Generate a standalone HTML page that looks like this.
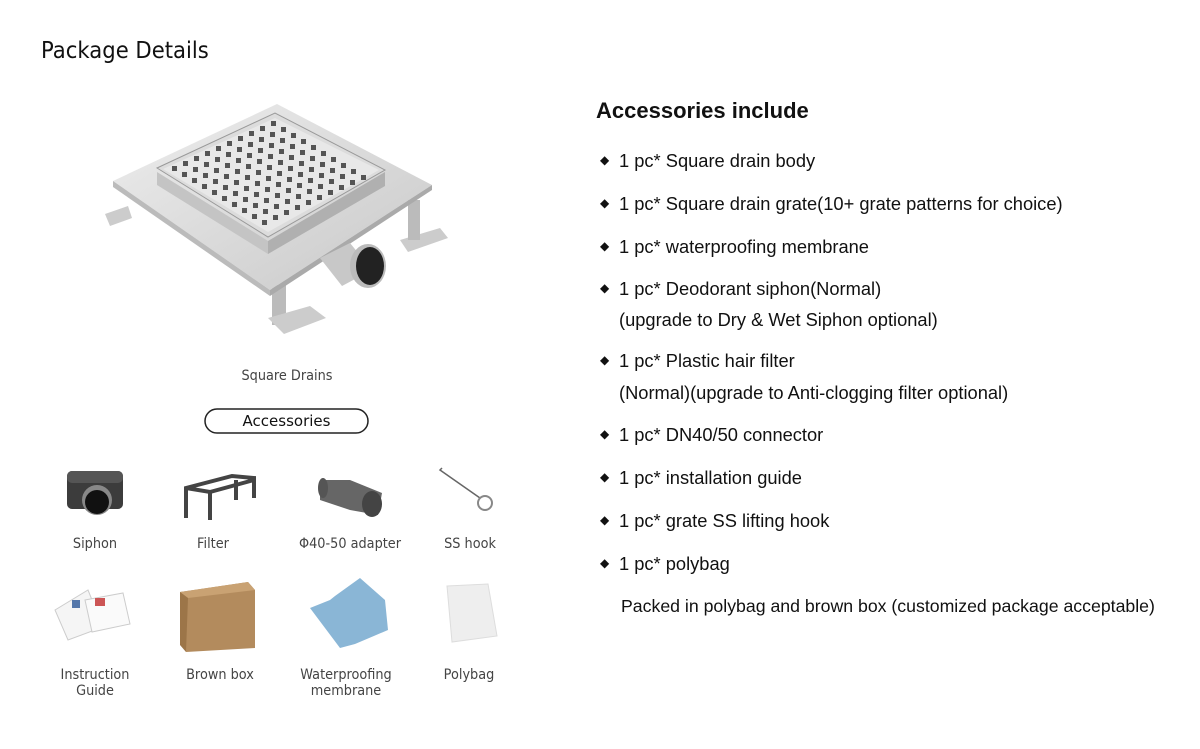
<!DOCTYPE html>
<html><head><meta charset="utf-8"><style>
body{margin:0;background:#fff;}
#c{position:relative;width:1200px;height:749px;overflow:hidden;font-family:"Liberation Sans",sans-serif;}
.a{position:absolute;white-space:nowrap;}
.lbl{position:absolute;font-size:14px;color:#444;text-align:center;width:130px;line-height:16px;font-family:"DejaVu Sans","Liberation Sans",sans-serif;transform:scaleX(0.92);}
.it{position:absolute;left:600px;font-size:18.3px;color:#111;}
.it b{position:absolute;left:0;font-size:12px;top:3px;font-weight:normal;}
.it span{position:absolute;left:19px;white-space:nowrap;}
</style></head><body><div id="c">
<div class="a" style="left:41px;top:38px;font-size:23px;color:#111;font-family:'DejaVu Sans','Liberation Sans',sans-serif;transform:scaleX(0.92);transform-origin:left">Package Details</div>

<svg class="a" style="left:0;top:0" width="560" height="749">
<defs><linearGradient id="g1" x1="0" y1="0" x2="1" y2="1"><stop offset="0" stop-color="#eee"/><stop offset="1" stop-color="#c8c8c8"/></linearGradient></defs>
<polygon points="105,214 128,206 132,218 110,226" fill="#ccc"/>
<polygon points="400,240 440,228 448,238 408,252" fill="#ccc"/>
<rect x="408" y="200" width="12" height="40" fill="#bbb"/>
<rect x="272" y="285" width="14" height="40" fill="#bbb"/>
<polygon points="268,318 310,306 326,318 284,334" fill="#ccc"/>
<polygon points="113,181 277,104 432,185 270,290" fill="url(#g1)"/>
<polygon points="113,181 270,290 270,296 113,187" fill="#bbb"/>
<polygon points="270,290 432,185 432,190 270,296" fill="#aaa"/>
<polygon points="157,172 268,241 268,254 157,185" fill="#c4c4c4"/>
<polygon points="268,241 385,172 385,186 268,254" fill="#b0b0b0"/>
<polygon points="157,168 275,113 385,170 268,237" fill="#dcdcdc" stroke="#999"/>
<polygon points="163,169 275,118 379,170 268,232" fill="#e8e8e8"/>
<g fill="#555">
<g id="r">
<rect x="172" y="166" width="5" height="5"/><rect x="183" y="161" width="5" height="5"/><rect x="194" y="156" width="5" height="5"/><rect x="205" y="151" width="5" height="5"/><rect x="216" y="146" width="5" height="5"/><rect x="227" y="141" width="5" height="5"/><rect x="238" y="136" width="5" height="5"/><rect x="249" y="131" width="5" height="5"/><rect x="260" y="126" width="5" height="5"/><rect x="271" y="121" width="5" height="5"/>
</g>
<use href="#r" transform="translate(10,6)"/><use href="#r" transform="translate(20,12)"/><use href="#r" transform="translate(30,18)"/><use href="#r" transform="translate(40,24)"/><use href="#r" transform="translate(50,30)"/><use href="#r" transform="translate(60,36)"/><use href="#r" transform="translate(70,42)"/><use href="#r" transform="translate(80,48)"/><use href="#r" transform="translate(90,54)"/>
</g>
<polygon points="320,258 350,243 372,270 342,286" fill="#c8c8c8"/>
<ellipse cx="368" cy="266" rx="18" ry="22" fill="#bbb"/>
<ellipse cx="370" cy="266" rx="14" ry="19" fill="#222"/>
<rect x="205" y="409" width="163" height="24" rx="12" fill="#fff" stroke="#222" stroke-width="1.5"/>
<rect x="67" y="471" width="56" height="38" rx="5" fill="#3c3c3c"/>
<rect x="67" y="471" width="56" height="12" rx="5" fill="#555"/>
<circle cx="97" cy="500" r="15" fill="#888"/><circle cx="97" cy="502" r="12" fill="#111"/>
<g stroke="#444" stroke-width="4" fill="none"><path d="M186,518 V488 L232,476 L254,478 V498"/><path d="M210,520 V490"/><path d="M236,500 V480"/><path d="M186,488 L210,492 L254,480"/></g>
<path d="M320,480 L350,480 L382,493 L378,515 L350,510 L320,500 Z" fill="#666"/>
<ellipse cx="372" cy="504" rx="10" ry="13" fill="#444"/><ellipse cx="323" cy="488" rx="5" ry="10" fill="#555"/>
<path d="M442,468 L440,470 L480,498" stroke="#666" stroke-width="1.5" fill="none"/>
<circle cx="485" cy="503" r="7" stroke="#888" stroke-width="2" fill="none"/>
<polygon points="55,610 88,590 103,627 68,640" fill="#f5f5f5" stroke="#ccc"/>
<polygon points="85,600 123,593 130,624 92,632" fill="#fafafa" stroke="#ccc"/>
<rect x="95" y="598" width="10" height="8" fill="#c55"/><rect x="72" y="600" width="8" height="8" fill="#57a"/>
<polygon points="180,592 248,582 255,590 255,648 186,652" fill="#b38b5d"/>
<polygon points="180,592 248,582 255,590 188,598" fill="#c9a273"/>
<polygon points="180,592 188,598 186,652 180,645" fill="#9c7548"/>
<polygon points="310,608 330,600 335,596 360,578 385,600 388,630 355,644 340,648" fill="#8ab6d6"/>
<polygon points="447,586 488,584 497,636 452,642" fill="#eee" stroke="#ddd"/>
</svg>

<div class="lbl" style="left:222px;top:368px">Square Drains</div>
<div class="a" style="left:205px;top:412px;width:163px;text-align:center;font-size:15px;color:#111;font-family:'DejaVu Sans',sans-serif">Accessories</div>
<div class="lbl" style="left:30px;top:536px">Siphon</div>
<div class="lbl" style="left:148px;top:536px">Filter</div>
<div class="lbl" style="left:285px;top:536px">Φ40-50 adapter</div>
<div class="lbl" style="left:405px;top:536px">SS hook</div>
<div class="lbl" style="left:30px;top:667px">Instruction<br>Guide</div>
<div class="lbl" style="left:155px;top:667px">Brown box</div>
<div class="lbl" style="left:281px;top:667px">Waterproofing<br>membrane</div>
<div class="lbl" style="left:404px;top:667px">Polybag</div>

<div class="a" style="left:596px;top:98px;font-size:22px;font-weight:bold;color:#111">Accessories include</div>
<div class="it" style="top:150px"><b>◆</b><span>1 pc* Square drain body</span></div>
<div class="it" style="top:193px"><b>◆</b><span>1 pc* Square drain grate(10+ grate patterns for choice)</span></div>
<div class="it" style="top:236px"><b>◆</b><span>1 pc* waterproofing membrane</span></div>
<div class="it" style="top:278px"><b>◆</b><span>1 pc* Deodorant siphon(Normal)</span></div>
<div class="it" style="top:309px"><span>(upgrade to Dry &amp; Wet Siphon optional)</span></div>
<div class="it" style="top:350px"><b>◆</b><span>1 pc* Plastic hair filter</span></div>
<div class="it" style="top:382px"><span>(Normal)(upgrade to Anti-clogging filter optional)</span></div>
<div class="it" style="top:424px"><b>◆</b><span>1 pc* DN40/50 connector</span></div>
<div class="it" style="top:467px"><b>◆</b><span>1 pc* installation guide</span></div>
<div class="it" style="top:510px"><b>◆</b><span>1 pc* grate SS lifting hook</span></div>
<div class="it" style="top:553px"><b>◆</b><span>1 pc* polybag</span></div>
<div class="it" style="top:596px;font-size:17.7px"><span style="left:21px">Packed in polybag and brown box (customized package acceptable)</span></div>
</div></body></html>
